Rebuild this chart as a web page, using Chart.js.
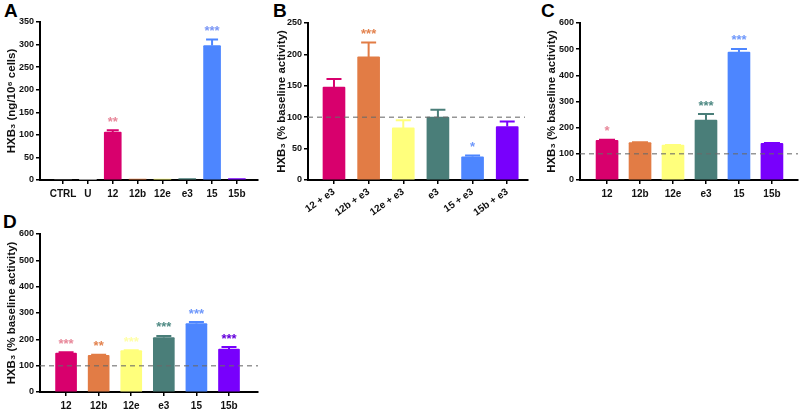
<!doctype html>
<html lang="en">
<head>
<meta charset="utf-8">
<title>HXB3 panels</title>
<script src="https://cdn.jsdelivr.net/npm/chart.js"></script>
<style>
  * { margin: 0; padding: 0; }
  body { width: 800px; height: 410px; background: #fff; position: relative; overflow: hidden;
         font-family: "Liberation Sans", Arial, sans-serif; }
  .box { position: absolute; }
  .tag { position: absolute; font-weight: bold; font-size: 19px; color: #000; }
</style>
</head>
<body>
<div class="tag" style="left:4px;top:0px">A</div>
<div class="tag" style="left:273px;top:0px">B</div>
<div class="tag" style="left:541px;top:0px">C</div>
<div class="tag" style="left:3px;top:211px">D</div>
<div class="box" style="left:0;top:0;width:268px;height:205px"><canvas id="chartA"></canvas></div>
<div class="box" style="left:270px;top:0;width:268px;height:222px"><canvas id="chartB"></canvas></div>
<div class="box" style="left:540px;top:0;width:260px;height:205px"><canvas id="chartC"></canvas></div>
<div class="box" style="left:0;top:205px;width:268px;height:205px"><canvas id="chartD"></canvas></div>
<script>
// data
const catsA = ['CTRL', 'U', '12', '12b', '12e', 'e3', '15', '15b'];
const valsA = [0, 1, 106, 2, 2, 3, 298, 3];
const errsA = [0, 0, 4, 0, 0, 0, 13, 0];
const starsA = ['', '', '**', '', '', '', '***', ''];

const catsB = ['12 + e3', '12b + e3', '12e + e3', 'e3', '15 + e3', '15b + e3'];
const valsB = [148, 196, 83, 100, 37, 85];
const errsB = [13, 23, 12, 12, 2, 8];
const starsB = ['', '***', '', '', '*', ''];

const catsC = ['12', '12b', '12e', 'e3', '15', '15b'];
const valsC = [152, 143, 133, 229, 489, 140];
const errsC = [2, 1, 1, 23, 12, 1];
const starsC = ['*', '', '', '***', '***', ''];

const catsD = ['12', '12b', '12e', 'e3', '15', '15b'];
const valsD = [148, 139, 157, 207, 260, 163];
const errsD = [3, 2, 2, 6, 6, 8];
const starsD = ['***', '**', '***', '***', '***', '***'];

const baseline = 100;

// colours
const MAG = '#d8006d', ORA = '#e27c45', YEL = '#ffff7c', TEA = '#4a7e79', BLU = '#4d86ff', PUR = '#7800fc';
const sMAG = '#e8889a', sORA = '#e3834f', sYEL = '#ffffa8', sTEA = '#4f8a84', sBLU = '#6f98fb', sPUR = '#6a10e0';
const six = [MAG, ORA, YEL, TEA, BLU, PUR];
const sixStar = [sMAG, sORA, sYEL, sTEA, sBLU, sPUR];

Chart.defaults.font.family = '"Liberation Sans", Arial, sans-serif';
Chart.defaults.font.weight = 'bold';
Chart.defaults.font.size = 9;
Chart.defaults.color = '#111';

// error bars, stars and dashed baseline
const extras = {
  id: 'extras',
  afterDatasetsDraw(chart, args, opts) {
    const {ctx, chartArea: {left, right}, scales: {x, y}} = chart;
    const meta = chart.getDatasetMeta(0);
    ctx.save();
    meta.data.forEach((bar, i) => {
      const v = opts.vals[i], e = opts.errs[i];
      const top = y.getPixelForValue(v + e);
      if (e > 0) {
        const cap = opts.cap / 2;
        ctx.strokeStyle = opts.colors[i];
        ctx.lineWidth = 2;
        ctx.beginPath();
        ctx.moveTo(bar.x, y.getPixelForValue(v));
        ctx.lineTo(bar.x, top);
        ctx.moveTo(bar.x - cap, top);
        ctx.lineTo(bar.x + cap, top);
        ctx.stroke();
      }
      if (opts.stars[i]) {
        ctx.fillStyle = opts.starColors[i];
        ctx.font = 'bold 13px "Liberation Sans", Arial';
        ctx.textAlign = 'center';
        ctx.textBaseline = 'middle';
        ctx.fillText(opts.stars[i], bar.x, top - 8);
      }
    });
    if (opts.baseline) {
      const yy = y.getPixelForValue(baseline);
      ctx.strokeStyle = 'rgba(105,105,105,0.7)';
      ctx.lineWidth = 1.5;
      ctx.setLineDash([5, 4]);
      ctx.beginPath();
      ctx.moveTo(left, yy);
      ctx.lineTo(right - opts.lineCut, yy);
      ctx.stroke();
    }
    ctx.restore();
  }
};

function panel(id, p) {
  const points = p.vals.map((v, i) => ({x: i, y: v}));
  return new Chart(document.getElementById(id), {
    type: 'bar',
    data: {
      datasets: [{
        data: points,
        backgroundColor: p.colors,
        borderWidth: 0,
        borderRadius: 1,
        barThickness: p.barW
      }]
    },
    options: {
      responsive: true,
      maintainAspectRatio: false,
      animation: false,
      layout: {padding: {top: p.top, right: p.right, left: 0, bottom: 0}},
      plugins: {
        legend: {display: false},
        tooltip: {enabled: false},
        extras: {
          vals: p.vals, errs: p.errs, stars: p.stars, colors: p.colors,
          starColors: p.starColors, cap: p.cap, baseline: p.baseline, lineCut: p.lineCut || 0
        }
      },
      scales: {
        x: {
          type: 'linear',
          offset: false,
          min: p.xMin,
          max: p.xMax,
          afterBuildTicks: s => { s.ticks = p.cats.map((c, i) => ({value: i})); },
          afterFit: s => { s.height = p.xH; s.paddingLeft = 0; s.paddingRight = 0; },
          ticks: {
            callback: v => p.cats[v],
            autoSkip: false,
            padding: p.rot ? 2 : 4,
            font: {size: 10, weight: 'bold'},
            minRotation: p.rot,
            maxRotation: p.rot
          },
          grid: {offset: false, drawOnChartArea: false, drawTicks: true, tickLength: 4, color: '#000', lineWidth: 1.5},
          border: {display: true, color: '#000', width: 2}
        },
        y: {
          min: 0,
          max: p.yMax,
          afterFit: s => { s.width = p.yW; },
          ticks: {stepSize: p.yStep, padding: 2},
          grid: {drawOnChartArea: false, drawTicks: true, tickLength: 4, color: '#000', lineWidth: 1.5},
          border: {display: true, color: '#000', width: 2},
          title: {display: true, text: p.yTitle, padding: {top: 5, bottom: 0}, font: {size: 11.5, weight: 'bold'}}
        }
      }
    },
    plugins: [extras]
  });
}

panel('chartA', {
  cats: catsA, vals: valsA, errs: errsA, stars: starsA,
  colors: ['#999', '#999', MAG, ORA, YEL, TEA, BLU, PUR],
  starColors: ['#999', '#999', sMAG, sORA, sYEL, sTEA, '#7b97f5', sPUR],
  yMax: 350, yStep: 50, yTitle: 'HXB\u2083 (ng/10\u2076 cells)',
  xMin: -0.93, xMax: 7.85, barW: 17, cap: 12,
  top: 22, right: 10, yW: 40, xH: 25, rot: 0, baseline: false
});

panel('chartB', {
  cats: catsB, vals: valsB, errs: errsB, stars: starsB,
  colors: six, starColors: sixStar,
  yMax: 250, yStep: 50, yTitle: 'HXB\u2083 (% baseline activity)',
  xMin: -0.75, xMax: 5.6, barW: 22, cap: 15,
  top: 23, right: 10, yW: 38, xH: 42, rot: 35, baseline: true, lineCut: 3
});

panel('chartC', {
  cats: catsC, vals: valsC, errs: errsC, stars: starsC,
  colors: six, starColors: sixStar,
  yMax: 600, yStep: 100, yTitle: 'HXB\u2083 (% baseline activity)',
  xMin: -0.82, xMax: 5.79, barW: 22, cap: 16,
  top: 23, right: 2, yW: 40, xH: 25, rot: 0, baseline: true
});

panel('chartD', {
  cats: catsD, vals: valsD, errs: errsD, stars: starsD,
  colors: six, starColors: [sMAG, sORA, sYEL, sTEA, sBLU, '#6400dc'],
  yMax: 600, yStep: 100, yTitle: 'HXB\u2083 (% baseline activity)',
  xMin: -0.8, xMax: 5.89, barW: 21, cap: 15,
  top: 29, right: 10, yW: 40, xH: 18, rot: 0, baseline: true
});
</script>
</body>
</html>
